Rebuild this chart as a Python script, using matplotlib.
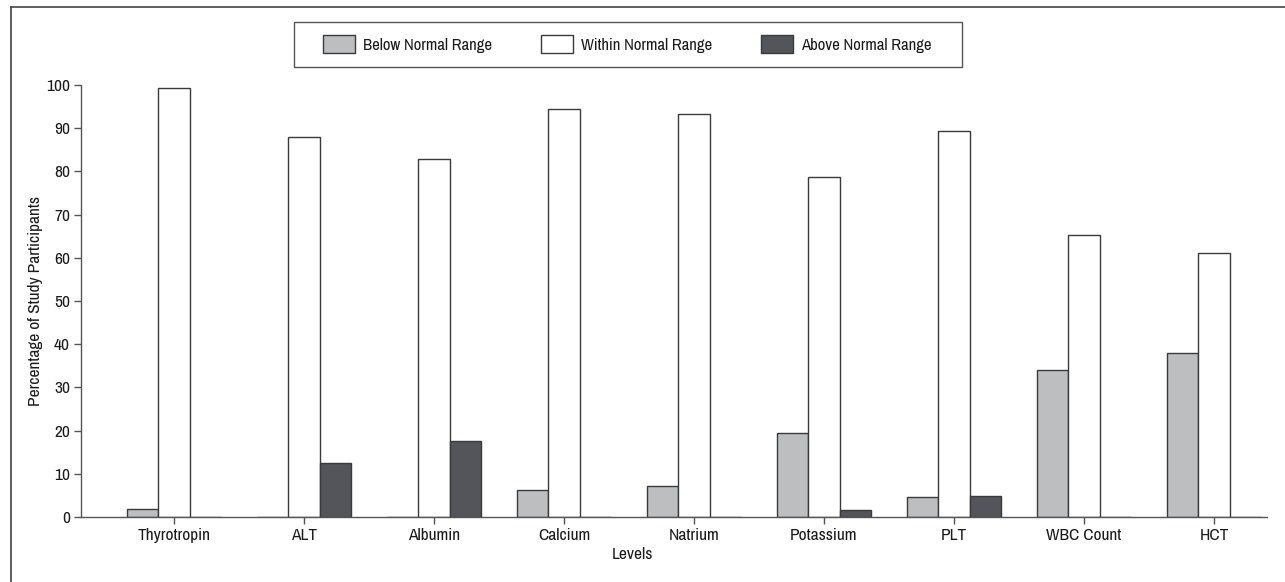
import matplotlib
matplotlib.use("Agg")
import matplotlib.pyplot as plt
from matplotlib.lines import Line2D
from matplotlib.patches import Rectangle
import numpy as np

plt.rcParams['font.family'] = ['Archivo Narrow', 'DejaVu Sans']

categories = ["Thyrotropin", "ALT", "Albumin", "Calcium", "Natrium",
              "Potassium", "PLT", "WBC Count", "HCT"]
below = [1.8, 0, 0, 6.2, 7.1, 19.5, 4.6, 34.0, 37.9]
within = [99.3, 88.0, 82.9, 94.4, 93.4, 78.6, 89.4, 65.3, 61.1]
above = [0, 12.5, 17.5, 0, 0, 1.7, 4.9, 0, 0]
series_names = ["Below Normal Range", "Within Normal Range", "Above Normal Range"]
yticks = list(range(0, 101, 10))

W, H = 1285, 582
fig = plt.figure(figsize=(W / 100, H / 100), dpi=100)
ax = fig.add_axes([81/W, 1-517/H, (1267-81)/W, (517-85)/H])

x = np.arange(len(categories))
w = 0.242
fc = ["#bdbec0", "#ffffff", "#54555a"]
ec = "#3a3a3a"
for i, (vals, name) in enumerate(zip([below, within, above], series_names)):
    ax.bar(x + (i - 1) * w, vals, width=w, color=fc[i], edgecolor=ec,
           linewidth=1.0, label=name, zorder=2)

ax.set_xlim(-0.715, 8.408)
ax.set_ylim(0, 100)
ax.set_yticks(yticks)
ax.set_xticks(x)
ax.set_xticklabels(categories)
for s in ["top", "right"]:
    ax.spines[s].set_visible(False)
for s in ["left", "bottom"]:
    ax.spines[s].set_color("#555555")
    ax.spines[s].set_linewidth(1.0)
ax.tick_params(axis="both", direction="out", length=5, width=1, color="#555555",
               labelsize=12.5, labelcolor="#1a1a1a", pad=3)
ax.set_ylabel("Percentage of Study Participants", fontsize=12.5, color="#1a1a1a")
ax.yaxis.set_label_coords((43-81)/1186, 0.5)
ax.set_xlabel("Levels", fontsize=12.5, color="#1a1a1a")
ax.xaxis.set_label_coords((632-81)/1186, (517-547)/432)

leg = ax.legend(ncol=3, loc="center", bbox_to_anchor=(627/W, 1-44.3/H),
                bbox_transform=fig.transFigure, frameon=False,
                fontsize=12, handlelength=1.92, handleheight=1.26, columnspacing=2.95,
                handletextpad=0.48, borderpad=0.0, labelcolor="#1a1a1a")

# legend box
fig.add_artist(Rectangle((294/W, 1-67/H), (962-294)/W, (67-21.7)/H,
                         transform=fig.transFigure, fill=False,
                         edgecolor="#555555", linewidth=1.0))

# outer frame (left and top edges)
fig.add_artist(Line2D([11/W, 11/W], [0, 1-7/H], transform=fig.transFigure,
                      color="#444444", linewidth=1.2))
fig.add_artist(Line2D([11/W, 1], [1-7/H, 1-7/H], transform=fig.transFigure,
                      color="#444444", linewidth=1.2))

fig.savefig("out.png", dpi=100)
